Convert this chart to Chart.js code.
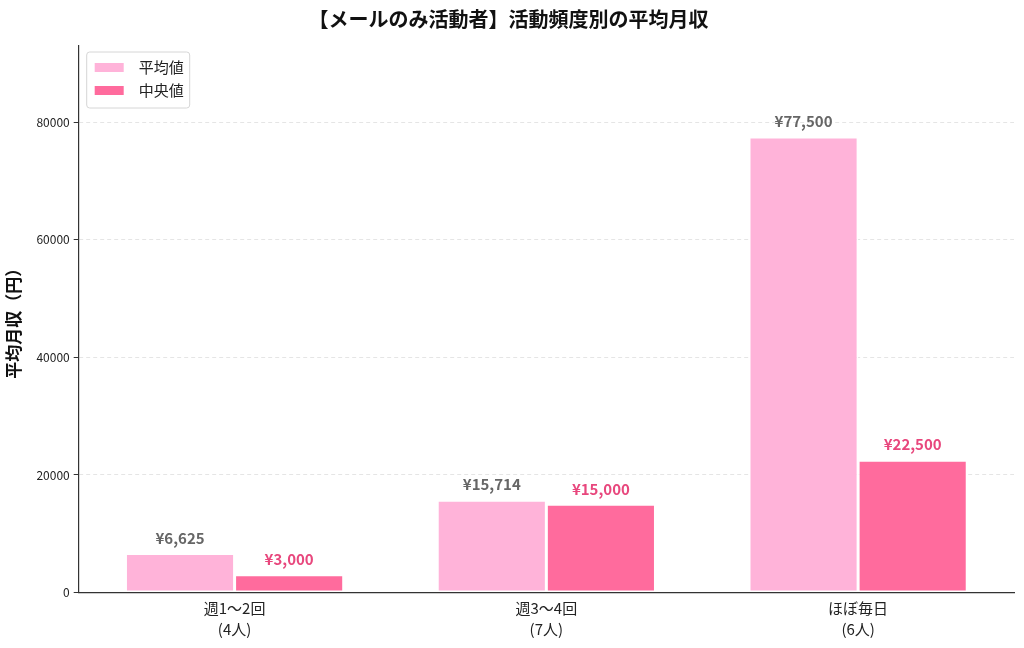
<!DOCTYPE html>
<html>
<head>
<meta charset="utf-8">
<script src="https://cdn.jsdelivr.net/npm/chart.js@4"></script>
<style>
  html, body { margin: 0; padding: 0; background: #fff; }
  #wrap { width: 1024px; height: 648px; }
</style>
</head>
<body>
<div id="wrap"><canvas id="incomeChart" width="1024" height="648"></canvas></div>
<script>
const categories = [['週1〜2回', '(4人)'], ['週3〜4回', '(7人)'], ['ほぼ毎日', '(6人)']];
const meanValues = [6625, 15714, 77500];
const medianValues = [3000, 15000, 22500];
const yTicks = [0, 20000, 40000, 60000, 80000];

const FONT = "'Noto Sans CJK JP', 'Noto Sans', sans-serif";

// value labels above bars
const barLabels = {
  id: 'barLabels',
  afterDatasetsDraw(chart) {
    const ctx = chart.ctx;
    ctx.save();
    ctx.font = 'bold 15px ' + FONT;
    ctx.textAlign = 'center';
    ctx.textBaseline = 'bottom';
    chart.data.datasets.forEach((ds, i) => {
      chart.getDatasetMeta(i).data.forEach((bar, j) => {
        ctx.fillStyle = ds.labelColor;
        ctx.fillText('¥' + ds.data[j].toLocaleString('en-US'), bar.x, bar.y - 8);
      });
    });
    ctx.restore();
  }
};

// legend box inside the plot, top-left
const innerLegend = {
  id: 'innerLegend',
  afterDraw(chart) {
    const ctx = chart.ctx;
    const a = chart.chartArea;
    const x = a.left + 8, y = a.top + 6, w = 103, h = 56;
    ctx.save();
    ctx.fillStyle = 'rgba(255,255,255,0.85)';
    ctx.strokeStyle = '#d6d6d6';
    ctx.lineWidth = 1;
    ctx.beginPath();
    ctx.roundRect(x, y, w, h, 3);
    ctx.fill();
    ctx.stroke();
    ctx.font = '15px ' + FONT;
    ctx.textBaseline = 'middle';
    chart.data.datasets.forEach((ds, i) => {
      const cy = y + 15 + i * 23;
      ctx.fillStyle = ds.backgroundColor;
      ctx.fillRect(x + 8, cy - 4, 29, 9);
      ctx.fillStyle = '#222';
      ctx.fillText(ds.label, x + 52, cy);
    });
    ctx.restore();
  }
};

new Chart(document.getElementById('incomeChart'), {
  type: 'bar',
  data: {
    labels: categories,
    datasets: [
      { label: '平均値', data: meanValues, backgroundColor: '#FFB3D9', labelColor: '#666666',
        borderColor: '#ffffff', borderWidth: 1.5, borderSkipped: false },
      { label: '中央値', data: medianValues, backgroundColor: '#FF6B9D', labelColor: '#E8477D',
        borderColor: '#ffffff', borderWidth: 1.5, borderSkipped: false }
    ]
  },
  options: {
    responsive: false,
    animation: false,
    layout: { padding: { left: 3, right: 10, top: 2, bottom: 8 } },
    datasets: { bar: { categoryPercentage: 0.7, barPercentage: 1.0 } },
    plugins: {
      legend: { display: false },
      tooltip: { enabled: false },
      title: {
        display: true,
        text: '【メールのみ活動者】活動頻度別の平均月収',
        color: '#111',
        font: { family: FONT, size: 20, weight: 'bold' },
        padding: { top: 5, bottom: 15 }
      }
    },
    scales: {
      x: {
        grid: { display: false, drawTicks: true, tickLength: 5 },
        border: { color: '#333', width: 1.2 },
        ticks: { color: '#222', font: { family: FONT, size: 15, lineHeight: 1.35 }, padding: 1 }
      },
      y: {
        min: 0,
        max: 93000,
        afterBuildTicks(scale) { scale.ticks = yTicks.map(v => ({ value: v })); },
        grid: {
          color: 'rgba(0,0,0,0.1)',
          tickColor: '#333',
          tickLength: 5,
          drawOnChartArea: true
        },
        border: { color: '#333', width: 1.2, dash: [4, 3] },
        ticks: { color: '#222', font: { family: FONT, size: 12 }, padding: 4, callback: v => String(v) },
        title: {
          display: true,
          text: '平均月収（円）',
          color: '#111',
          font: { family: FONT, size: 17, weight: 'bold' },
          padding: { top: 0, bottom: 9 }
        }
      }
    }
  },
  plugins: [barLabels, innerLegend]
});
</script>
</body>
</html>
